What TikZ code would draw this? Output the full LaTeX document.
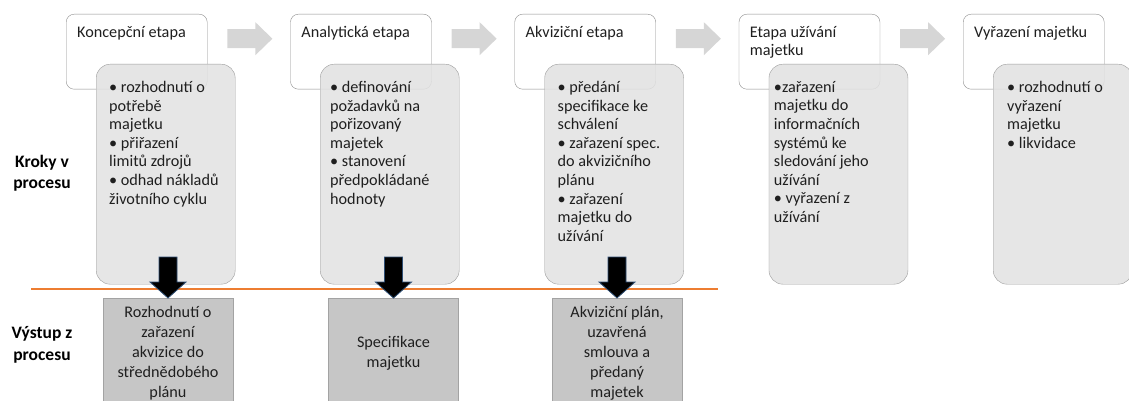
\documentclass[tikz,border=0pt]{standalone}
\usepackage{fontspec}
\setmainfont{Carlito}
\usetikzlibrary{calc}
\definecolor{ramecek}{HTML}{8C8C8C}
\definecolor{krokfill}{HTML}{E2E2E2}
\definecolor{vystupfill}{HTML}{C6C6C6}
\definecolor{sipkagray}{HTML}{D6D6D6}
\definecolor{oranzova}{HTML}{ED7D31}
\definecolor{sipkaokraj}{HTML}{2F4F75}
\def\posun#1{\fill[sipkagray] #1 -- ++(-17,-16.5) -- ++(0,7) -- ++(-28,0) -- ++(0,19) -- ++(28,0) -- ++(0,7) -- cycle;}
\def\dolu#1{\filldraw[fill=black, draw=sipkaokraj, line width=0.8pt] #1 -- ++(-18,-16) -- ++(9,0) -- ++(0,-25) -- ++(18,0) -- ++(0,25) -- ++(9,0) -- cycle;}

\begin{document}
\begin{tikzpicture}[x=1pt, y=-1pt,
		etapa/.style={draw=ramecek, fill=white, rounded corners=8pt, minimum width=141pt, minimum height=75pt, anchor=north west, inner sep=0pt},
		krok/.style={draw=ramecek!85, fill=krokfill, fill opacity=0.88, rounded corners=14pt, minimum width=139pt, minimum height=220pt, anchor=north west, inner sep=0pt},
		vystup/.style={draw=ramecek!80, fill=vystupfill, minimum width=130pt, minimum height=110pt, anchor=north, inner sep=0pt},
		popis/.style={anchor=north west, inner sep=0pt, align=left, text=black!88, font=\fontsize{16.2}{18.6}\selectfont},
		vystuptxt/.style={align=center, text=black!88, font=\fontsize{16.2}{20}\selectfont},
		radek/.style={align=center, font=\fontsize{17.5}{21.5}\selectfont\bfseries}]
		%%%%% START %%%%%
		
		\useasboundingbox (0, 0) rectangle (1129, 401);
		
		% etapy nahore
		\node[etapa] (etapa1) at (66, 14) {};
		\node[etapa] (etapa2) at (290.25, 14) {};
		\node[etapa] (etapa3) at (514.5, 14) {};
		\node[etapa] (etapa4) at (738.75, 14) {};
		\node[etapa] (etapa5) at (963, 14) {};
		
		\node[popis] (nazev1) at ($(etapa1.north west)+(11, 12)$) {Koncepční etapa};
		\node[popis] (nazev2) at ($(etapa2.north west)+(11, 12)$) {Analytická etapa};
		\node[popis] (nazev3) at ($(etapa3.north west)+(11, 12)$) {Akviziční etapa};
		\node[popis] (nazev4) at ($(etapa4.north west)+(11, 12)$) {Etapa užívání\\majetku};
		\node[popis] (nazev5) at ($(etapa5.north west)+(11, 12)$) {Vyřazení majetku};
		
		\posun{($(etapa1.east)+(65, -13)$)}
		\posun{($(etapa2.east)+(65, -13)$)}
		\posun{($(etapa3.east)+(65, -13)$)}
		\posun{($(etapa4.east)+(65, -13)$)}
		
		% kroky v procesu
		\node[krok] (krok1) at (96, 64) {};
		\node[krok] (krok2) at (320, 64) {};
		\node[krok] (krok3) at (544.5, 64) {};
		\node[krok] (krok4) at (768.75, 64) {};
		\node[krok] (krok5) at (993, 64) {};
		
		\node[popis] (body1) at ($(krok1.north west)+(13, 17)$) {• rozhodnutí o\\potřebě\\majetku\\• přiřazení\\limitů zdrojů\\• odhad nákladů\\životního cyklu};
		\node[popis] (body2) at ($(krok2.north west)+(10, 17)$) {• definování\\požadavků na\\pořizovaný\\majetek\\• stanovení\\předpokládané\\hodnoty};
		\node[popis] (body3) at ($(krok3.north west)+(13, 17)$) {• předání\\specifikace ke\\schválení\\• zařazení spec.\\do akvizičního\\plánu\\• zařazení\\majetku do\\užívání};
		\node[popis] (body4) at ($(krok4.north west)+(5, 17)$) {•zařazení\\majetku do\\informačních\\systémů ke\\sledování jeho\\užívání\\• vyřazení z\\užívání};
		\node[popis] (body5) at ($(krok5.north west)+(14, 17)$) {• rozhodnutí o\\vyřazení\\majetku\\• likvidace};
		
		% deleni
		\draw[line width=2.5pt, color=oranzova] (31, 289) -- (718, 289);
		
		\node[radek] (kroky) at (42, 173) {Kroky v\\procesu};
		\node[radek] (vystupy) at (42, 345) {Výstup z\\procesu};
		
		% vystupy
		\node[vystup] (vystup1) at (168, 298) {};
		\node[vystup] (vystup2) at (393.5, 298) {};
		\node[vystup] (vystup3) at (617, 298) {};
		
		\node[vystuptxt] (vtext1) at (vystup1) {Rozhodnutí o\\zařazení\\akvizice do\\střednědobého\\plánu};
		\node[vystuptxt] (vtext2) at (vystup2) {Specifikace\\majetku};
		\node[vystuptxt] (vtext3) at (vystup3) {Akviziční plán,\\uzavřená\\smlouva a\\předaný\\majetek};
		
		\dolu{(vystup1.north)}
		\dolu{(vystup2.north)}
		\dolu{(vystup3.north)}
		
		%%%%% END %%%%%
	\end{tikzpicture}
\end{document}
